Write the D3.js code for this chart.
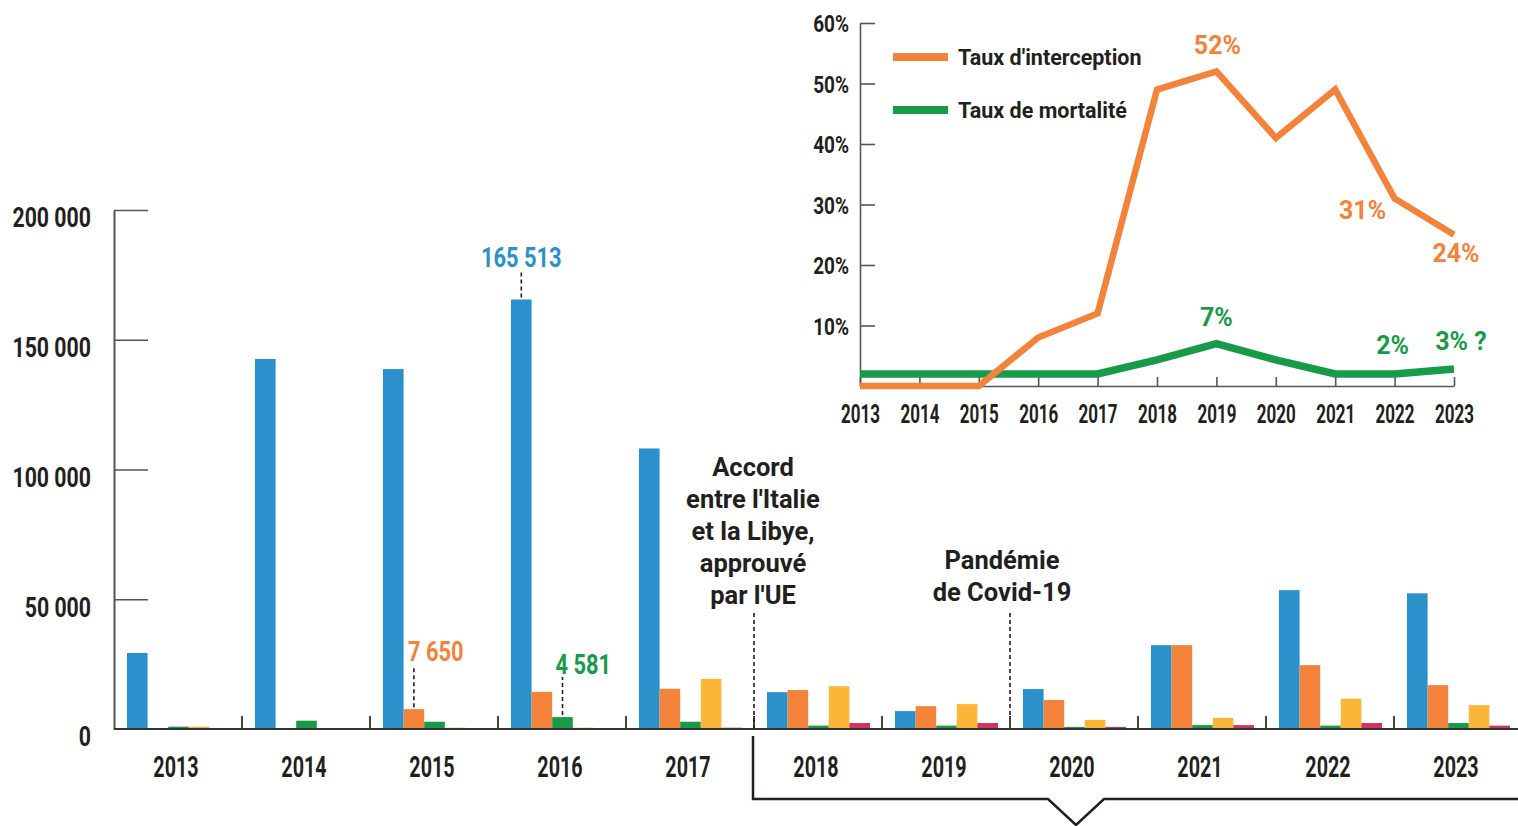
<!DOCTYPE html>
<html>
<head>
<meta charset="utf-8">
<script src="https://cdn.jsdelivr.net/npm/d3@7"></script>
<style>
    body { margin: 0; background: #fff; }
    .cond { font-family: "Roboto", "Noto Sans", sans-serif; font-weight: 700; fill: #231f20; }
    .round { font-family: "Roboto", "Noto Sans", sans-serif; font-weight: 700; fill: #231f20; }
</style>
</head>
<body>
<svg id="chart"></svg>
<script>
const years = [2013, 2014, 2015, 2016, 2017, 2018, 2019, 2020, 2021, 2022, 2023];

// bar series (one value per year)
const serieBleue = [29300, 142600, 138700, 165513, 108100, 14200, 6900, 15400, 32300, 53500, 52300];
const serieOrange = [0, 0, 7650, 14300, 15500, 15000, 8800, 11200, 32300, 24600, 16900];
const serieVerte = [900, 3200, 2800, 4581, 2800, 1300, 1300, 800, 1500, 1300, 2300];
const serieJaune = [900, 300, 500, 500, 19300, 16500, 9600, 3500, 4300, 11700, 9200];
const serieRouge = [0, 0, 0, 0, 500, 2300, 2300, 800, 1500, 2300, 1300];

const yTicks = [0, 50000, 100000, 150000, 200000];

// inset line series (%)
const tauxInterception = [0, 0, 0, 8, 12, 49, 52, 41, 49, 31, 25];
const tauxMortalite = [2, 2, 2, 2, 2, 4.3, 7, 4.3, 2, 2, 2.8];
const pctTicks = [10, 20, 30, 40, 50, 60];

// labels
const barLabels = [
    {year: 2016, serie: "bleue", text: "165 513"},
    {year: 2015, serie: "orange", text: "7 650"},
    {year: 2016, serie: "verte", text: "4 581"}
];
const lineLabels = [
    {year: 2019, serie: "interception", text: "52%"},
    {year: 2022, serie: "interception", text: "31%"},
    {year: 2023, serie: "interception", text: "24%"},
    {year: 2019, serie: "mortalite", text: "7%"},
    {year: 2022, serie: "mortalite", text: "2%"},
    {year: 2023, serie: "mortalite", text: "3% ?"}
];
const events = [
    {year: 2018, lines: ["Accord", "entre l'Italie", "et la Libye,", "approuvé", "par l'UE"]},
    {year: 2020, lines: ["Pandémie", "de Covid-19"]}
];
const legendItems = ["Taux d'interception", "Taux de mortalité"];

const colors = {bleue: "#2a91cb", orange: "#f3823a", verte: "#179b48", jaune: "#fbb637", rouge: "#d2325a"};
const keys = ["bleue", "orange", "verte", "jaune", "rouge"];
const series = {bleue: serieBleue, orange: serieOrange, verte: serieVerte, jaune: serieJaune, rouge: serieRouge};

const svgWidth = 1518;
const svgHeight = 826;

let svg = d3.select("#chart")
    .attr("width", svgWidth)
    .attr("height", svgHeight);

const fr = d3.formatLocale({decimal: ",", thousands: " ", grouping: [3], currency: ["", " €"]});

// squeeze text horizontally, no condensed font installed
function condense(sel, k) {
    sel.each(function() {
        let w = this.getComputedTextLength();
        d3.select(this).attr("textLength", w * k).attr("lengthAdjust", "spacingAndGlyphs");
    });
}

// ---------- bar chart ----------
let x = d3.scaleBand()
    .domain(years)
    .range([114, 114 + 128 * years.length]);

let xSub = d3.scaleBand()
    .domain(keys)
    .range([13, 116]);

let y = d3.scaleLinear()
    .domain([0, 200000])
    .range([729, 210]);

let rows = years.map((yr, i) => keys.map(k => ({year: yr, key: k, value: series[k][i]})));

svg.append("g")
    .selectAll("g")
    .data(rows)
    .enter().append("g")
    .attr("transform", d => `translate(${x(d[0].year)},0)`)
    .selectAll("rect")
    .data(d => d)
    .enter().append("rect")
    .attr("x", d => xSub(d.key))
    .attr("width", xSub.bandwidth())
    .attr("y", d => y(d.value))
    .attr("height", d => y(0) - y(d.value) + 1)
    .style("fill", d => colors[d.key]);

// y axis
let yAxis = d3.axisLeft(y)
    .tickValues(yTicks)
    .tickSizeInner(-34)
    .tickSizeOuter(0)
    .tickPadding(23)
    .tickFormat(fr.format(","));

let yAxisGroup = svg.append("g")
    .attr("transform", "translate(114,0)")
    .call(yAxis);
yAxisGroup.select(".domain").attr("stroke", "#555").attr("stroke-width", 2);
yAxisGroup.selectAll(".tick line").attr("stroke", "#555").attr("stroke-width", 1.5)
    .filter(d => d === 0).remove();
yAxisGroup.selectAll(".tick text")
    .attr("class", "cond")
    .attr("y", 8)
    .style("font-size", "28px")
    .call(condense, 0.76);

// baseline + group dividers
svg.append("line")
    .attr("x1", 114).attr("x2", svgWidth)
    .attr("y1", y(0)).attr("y2", y(0))
    .attr("stroke", "#333").attr("stroke-width", 2);

svg.append("g")
    .selectAll("line")
    .data(years.slice(1))
    .enter().append("line")
    .attr("x1", d => x(d)).attr("x2", d => x(d))
    .attr("y1", y(0) - 13).attr("y2", y(0))
    .attr("stroke", "#444").attr("stroke-width", 2);

svg.append("g")
    .selectAll("text")
    .data(years)
    .enter().append("text")
    .attr("class", "cond")
    .attr("x", d => x(d) + 62)
    .attr("y", 767)
    .attr("dy", "0.35em")
    .attr("text-anchor", "middle")
    .style("font-size", "29px")
    .text(d => d)
    .call(condense, 0.68);

// bar value labels
const barLabelOffsets = {"bleue-2016": [0, 30, 42], "orange-2015": [-6, 42, 58], "verte-2016": [-7, 40, 53]};
barLabels.forEach(l => {
    let i = years.indexOf(l.year);
    let v = series[l.serie][i];
    let cx = x(l.year) + xSub(l.serie) + xSub.bandwidth() / 2;
    let top = y(v);
    let off = barLabelOffsets[l.serie + "-" + l.year];
    svg.append("line")
        .attr("x1", cx).attr("x2", cx)
        .attr("y1", top - 2).attr("y2", top - off[1])
        .attr("stroke", "#231f20").attr("stroke-width", 1.6)
        .attr("stroke-dasharray", "4 3");
    svg.append("text")
        .attr("class", "cond")
        .attr("x", cx + off[0])
        .attr("y", top - off[2])
        .attr("dy", "0.35em")
        .attr("text-anchor", off[0] ? "start" : "middle")
        .style("font-size", "27px")
        .style("fill", colors[l.serie])
        .text(l.text)
        .call(condense, 0.81);
});

// events
events.forEach(ev => {
    let ex = x(ev.year);
    let lineH = 32;
    let lastBase = ev.year === 2018 ? 604 : 601;
    let cx = ev.year === 2018 ? ex - 1 : ex - 8;
    svg.append("line")
        .attr("x1", ex).attr("x2", ex)
        .attr("y1", 613).attr("y2", ev.year === 2018 ? 729 : 715)
        .attr("stroke", "#231f20").attr("stroke-width", 1.6)
        .attr("stroke-dasharray", "4 3");
    svg.append("text")
        .attr("class", "round")
        .attr("text-anchor", "middle")
        .style("font-size", "25.5px")
        .selectAll("tspan")
        .data(ev.lines)
        .enter().append("tspan")
        .attr("x", cx)
        .attr("y", (d, i) => lastBase - lineH * (ev.lines.length - 1 - i))
        .text(d => d);
});

// bracket under 2018-2023
let bx = x(2018) - 1;
svg.append("path")
    .attr("d", `M${bx},736 V799 H1048 L1076,825 L1104,799 H${svgWidth}`)
    .attr("fill", "none")
    .attr("stroke", "#231f20")
    .attr("stroke-width", 2.5);

// ---------- inset line chart ----------
let xi = d3.scalePoint()
    .domain(years)
    .range([860, 1454]);

let yi = d3.scaleLinear()
    .domain([0, 60])
    .range([386, 23]);

let yiAxis = d3.axisLeft(yi)
    .tickValues(pctTicks)
    .tickSizeInner(-15)
    .tickSizeOuter(0)
    .tickPadding(11)
    .tickFormat(d => d + "%");

let yiGroup = svg.append("g")
    .attr("transform", "translate(860,0)")
    .call(yiAxis);
yiGroup.select(".domain").attr("stroke", "#555").attr("stroke-width", 1.6);
yiGroup.selectAll(".tick line").attr("stroke", "#555").attr("stroke-width", 1.6);
yiGroup.selectAll(".tick text").attr("class", "cond").attr("y", 1).style("font-size", "24px").call(condense, 0.79);

let xiAxis = d3.axisBottom(xi)
    .tickSizeInner(-9)
    .tickSizeOuter(0)
    .tickPadding(16);

let xiGroup = svg.append("g")
    .attr("transform", "translate(0,386)")
    .call(xiAxis);
xiGroup.select(".domain").attr("stroke", "#555").attr("stroke-width", 1.6);
xiGroup.selectAll(".tick line").attr("stroke", "#555").attr("stroke-width", 1.6);
xiGroup.selectAll(".tick text").attr("class", "cond").attr("y", 28).attr("dy", "0.35em")
    .style("font-size", "25px").call(condense, 0.68);

let line = d3.line()
    .x((d, i) => xi(years[i]))
    .y(d => yi(d));

svg.append("path")
    .datum(tauxMortalite)
    .attr("d", line)
    .attr("fill", "none")
    .attr("stroke", colors.verte)
    .attr("stroke-width", 7.5);

svg.append("path")
    .datum(tauxInterception)
    .attr("d", line)
    .attr("fill", "none")
    .attr("stroke", colors.orange)
    .attr("stroke-width", 6.5);

// legend
let legend = svg.append("g")
    .selectAll("g")
    .data(legendItems)
    .enter().append("g")
    .attr("transform", (d, i) => `translate(893,${57 + i * 53})`);
legend.append("line")
    .attr("x1", 0).attr("x2", 55)
    .attr("stroke", (d, i) => i === 0 ? colors.orange : colors.verte)
    .attr("stroke-width", 8);
legend.append("text")
    .attr("class", "round")
    .attr("x", 65)
    .attr("dy", "0.35em")
    .style("font-size", "21.5px")
    .text(d => d);

// point labels
const labelOffsets = {
    "interception-2019": [1, -26], "interception-2022": [-32, 12], "interception-2023": [2, 18],
    "mortalite-2019": [0, -26], "mortalite-2022": [-2, -29], "mortalite-2023": [7, -28]
};
lineLabels.forEach(l => {
    let arr = l.serie === "interception" ? tauxInterception : tauxMortalite;
    let i = years.indexOf(l.year);
    let off = labelOffsets[l.serie + "-" + l.year];
    svg.append("text")
        .attr("class", "round")
        .attr("x", xi(l.year) + off[0])
        .attr("y", yi(arr[i]) + off[1])
        .attr("dy", "0.35em")
        .attr("text-anchor", "middle")
        .style("font-size", "25px")
        .style("fill", l.serie === "interception" ? colors.orange : colors.verte)
        .text(l.text);
});
</script>
</body>
</html>
